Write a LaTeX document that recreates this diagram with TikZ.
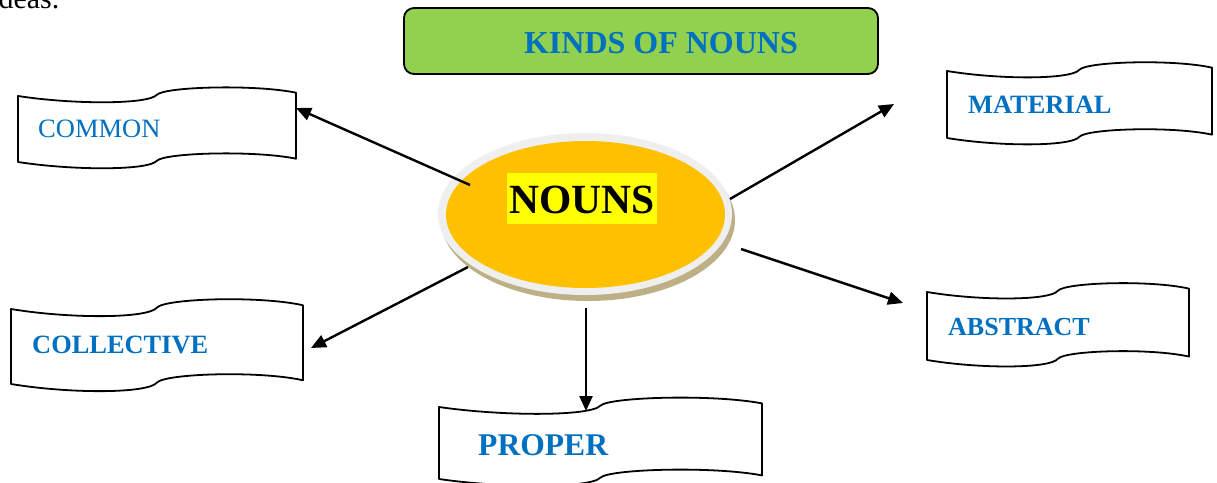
\documentclass[tikz,border=0pt]{standalone}
\usepackage{fontspec}
\setmainfont{Liberation Serif}
\usetikzlibrary{arrows.meta}
\definecolor{nblue}{HTML}{0070C0}
\definecolor{ngreen}{HTML}{92D050}
\definecolor{norange}{HTML}{FFC000}
\definecolor{nrim}{HTML}{EFEFEF}
\definecolor{nshadow}{HTML}{BDB086}
\definecolor{nyellow}{HTML}{FFFF00}
\newcommand\Banner[4]{%
 \begin{scope}[shift={(#1,#2)},xscale=#3,yscale=#4]
  \draw[bannerline] (0,0) .. controls (0.2,0.13) and (0.47,0.13) .. (0.5,-0.02)
    .. controls (0.53,-0.14) and (0.85,-0.18) .. (1,-0.05) -- (1,0.95)
    .. controls (0.85,0.82) and (0.53,0.86) .. (0.5,0.98)
    .. controls (0.47,1.13) and (0.2,1.13) .. (0,1) -- cycle;
 \end{scope}}
\tikzset{
  bannerline/.style={draw=black,line width=1.8pt,fill=white,line join=round},
  lbl/.style={text=nblue,inner sep=0pt,anchor=base west},
  arr/.style={line width=2.4pt,-{Triangle[length=15pt,width=13pt]}},
}
\begin{document}
\begin{tikzpicture}[x=1pt,y=-1pt]
\clip (0,0) rectangle (1217,482);
\fill[white] (0,0) rectangle (1217,482);
% stray text
\node[anchor=base west,inner sep=0pt] (ideas) at (-10,8) {\fontsize{30}{34}\selectfont ideas.};
% title
\draw[line width=1.8pt,fill=ngreen,rounded corners=10pt] (404,8) rectangle (878,74);
\node[text=nblue,anchor=base,inner sep=0pt] (title) at (661,53) {\fontsize{32}{36}\selectfont\bfseries KINDS OF NOUNS};
% central ellipse
\fill[nshadow] (588,220) ellipse [x radius=147,y radius=81];
\fill[nrim] (585,214) ellipse [x radius=147,y radius=81];
\fill[norange] (585.5,214.5) ellipse [x radius=139.5,y radius=73.5];
\node[fill=nyellow,inner sep=0pt,minimum width=150pt,minimum height=51pt] (nouns) at (582,198.5) {};
\node[anchor=base,inner sep=0pt] (nounstext) at (582,213) {\fontsize{41.5}{46}\selectfont\bfseries NOUNS};
% banners
\Banner{18}{96}{278}{66}
\node[lbl] (common) at (38,137) {\fontsize{26.5}{30}\selectfont COMMON};
\Banner{947}{71}{265}{67}
\node[lbl] (material) at (968,113) {\fontsize{26.4}{30}\selectfont\bfseries MATERIAL};
\Banner{927}{292}{262}{68}
\node[lbl] (abstract) at (948,335) {\fontsize{26}{30}\selectfont\bfseries ABSTRACT};
\Banner{11}{309}{292}{75}
\node[lbl] (collective) at (32,353) {\fontsize{26.4}{30}\selectfont\bfseries COLLECTIVE};
\Banner{439}{407}{323}{72}
\node[lbl] (proper) at (478,455) {\fontsize{31.6}{36}\selectfont\bfseries PROPER};
% connector ends
\coordinate (sC) at (470,185); \coordinate (tC) at (296,108);
\coordinate (sM) at (730,199); \coordinate (tM) at (894,104);
\coordinate (sA) at (741,249); \coordinate (tA) at (903,303);
\coordinate (sL) at (468,267); \coordinate (tL) at (311,348);
\coordinate (sP) at (586,308); \coordinate (tP) at (586,411);
\draw[arr] (sC) -- (tC);
\draw[arr] (sM) -- (tM);
\draw[arr] (sA) -- (tA);
\draw[arr] (sL) -- (tL);
\draw[arr] (sP) -- (tP);
\end{tikzpicture}
\end{document}
